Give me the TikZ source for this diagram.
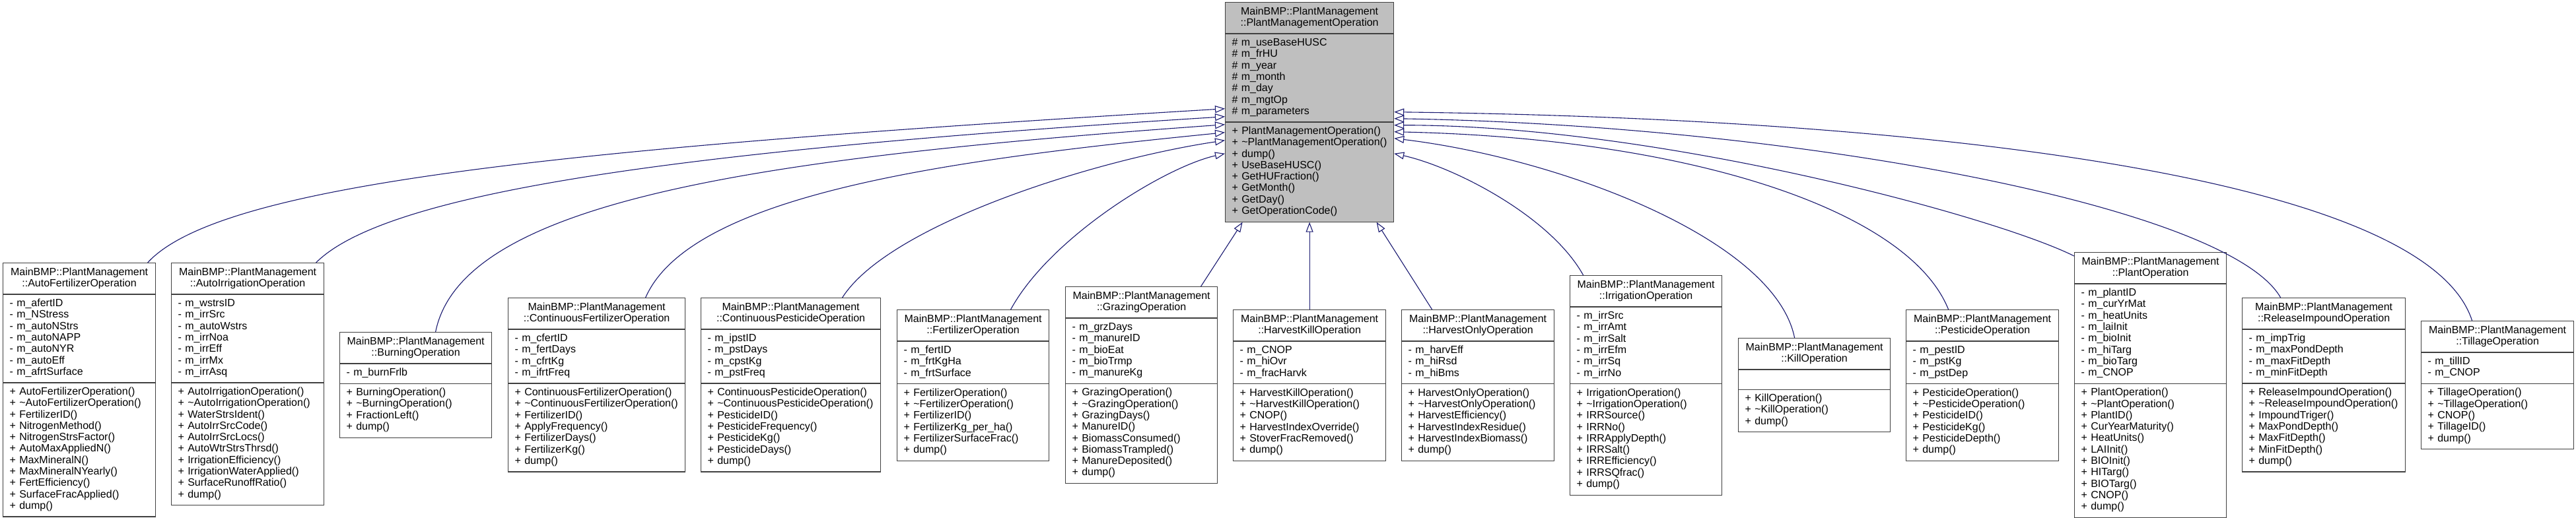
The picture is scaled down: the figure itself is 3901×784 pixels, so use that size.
\documentclass[tikz,border=0pt]{standalone}
\usepackage{fontspec}
\setmainfont{Liberation Sans}
\usetikzlibrary{shapes.multipart,arrows.meta,calc}
\setlength{\parindent}{0pt}

\definecolor{edgeblue}{HTML}{191970}
\definecolor{topgray}{HTML}{BFBFBF}
\definecolor{boxline}{HTML}{404040}
\newcommand{\umltitle}[2]{\centering\strut#1\\#2\strut\par}
\newcommand{\umlpart}[1]{\raggedright\strut#1\strut\par}

\tikzset{
  umlclass/.style={rectangle split, rectangle split parts=3, draw=boxline,
    line width=0.6pt, anchor=north west, inner xsep=5pt,
    inner ysep=2.9pt, text width=#1, font=\fontsize{8pt}{8.65pt}\selectfont},
  inherit/.style={draw=edgeblue, line width=0.55pt,
    -{Triangle[open, length=7.5pt, width=5.5pt]}},
}

\begin{document}
\begin{tikzpicture}[x=0.5pt, y=-0.5pt]
  \useasboundingbox (0,0) rectangle (3901,784);

  % base class
  \node[umlclass=117.5pt, fill=topgray] (cTop) at (1855,3)
    {\umltitle{MainBMP::PlantManagement}{::PlantManagementOperation}
     \nodepart{two}\umlpart{\# m\_useBaseHUSC\\\# m\_frHU\\\# m\_year\\\# m\_month\\\# m\_day\\\# m\_mgtOp\\\# m\_parameters}
     \nodepart{three}\umlpart{+ PlantManagementOperation()\\+ \textasciitilde PlantManagementOperation()\\+ dump()\\+ UseBaseHUSC()\\+ GetHUFraction()\\+ GetMonth()\\+ GetDay()\\+ GetOperationCode()}};

  % derived classes
  \node[umlclass=105.5pt] (cAutoFert) at (4,398)
    {\umltitle{MainBMP::PlantManagement}{::AutoFertilizerOperation}
     \nodepart{two}\umlpart{- m\_afertID\\- m\_NStress\\- m\_autoNStrs\\- m\_autoNAPP\\- m\_autoNYR\\- m\_autoEff\\- m\_afrtSurface}
     \nodepart{three}\umlpart{+ AutoFertilizerOperation()\\+ \textasciitilde AutoFertilizerOperation()\\+ FertilizerID()\\+ NitrogenMethod()\\+ NitrogenStrsFactor()\\+ AutoMaxAppliedN()\\+ MaxMineralN()\\+ MaxMineralNYearly()\\+ FertEfficiency()\\+ SurfaceFracApplied()\\+ dump()}};

  \node[umlclass=105.5pt] (cAutoIrr) at (259,398)
    {\umltitle{MainBMP::PlantManagement}{::AutoIrrigationOperation}
     \nodepart{two}\umlpart{- m\_wstrsID\\- m\_irrSrc\\- m\_autoWstrs\\- m\_irrNoa\\- m\_irrEff\\- m\_irrMx\\- m\_irrAsq}
     \nodepart{three}\umlpart{+ AutoIrrigationOperation()\\+ \textasciitilde AutoIrrigationOperation()\\+ WaterStrsIdent()\\+ AutoIrrSrcCode()\\+ AutoIrrSrcLocs()\\+ AutoWtrStrsThrsd()\\+ IrrigationEfficiency()\\+ IrrigationWaterApplied()\\+ SurfaceRunoffRatio()\\+ dump()}};

  \node[umlclass=105pt] (cBurning) at (514,503)
    {\umltitle{MainBMP::PlantManagement}{::BurningOperation}
     \nodepart{two}\umlpart{- m\_burnFrlb}
     \nodepart{three}\umlpart{+ BurningOperation()\\+ \textasciitilde BurningOperation()\\+ FractionLeft()\\+ dump()}};

  \node[umlclass=124pt] (cContFert) at (769,451)
    {\umltitle{MainBMP::PlantManagement}{::ContinuousFertilizerOperation}
     \nodepart{two}\umlpart{- m\_cfertID\\- m\_fertDays\\- m\_cfrtKg\\- m\_ifrtFreq}
     \nodepart{three}\umlpart{+ ContinuousFertilizerOperation()\\+ \textasciitilde ContinuousFertilizerOperation()\\+ FertilizerID()\\+ ApplyFrequency()\\+ FertilizerDays()\\+ FertilizerKg()\\+ dump()}};

  \node[umlclass=126pt] (cContPest) at (1061,451)
    {\umltitle{MainBMP::PlantManagement}{::ContinuousPesticideOperation}
     \nodepart{two}\umlpart{- m\_ipstID\\- m\_pstDays\\- m\_cpstKg\\- m\_pstFreq}
     \nodepart{three}\umlpart{+ ContinuousPesticideOperation()\\+ \textasciitilde ContinuousPesticideOperation()\\+ PesticideID()\\+ PesticideFrequency()\\+ PesticideKg()\\+ PesticideDays()\\+ dump()}};

  \node[umlclass=105pt] (cFert) at (1358,469)
    {\umltitle{MainBMP::PlantManagement}{::FertilizerOperation}
     \nodepart{two}\umlpart{- m\_fertID\\- m\_frtKgHa\\- m\_frtSurface}
     \nodepart{three}\umlpart{+ FertilizerOperation()\\+ \textasciitilde FertilizerOperation()\\+ FertilizerID()\\+ FertilizerKg\_per\_ha()\\+ FertilizerSurfaceFrac()\\+ dump()}};

  \node[umlclass=105pt] (cGrazing) at (1613,434)
    {\umltitle{MainBMP::PlantManagement}{::GrazingOperation}
     \nodepart{two}\umlpart{- m\_grzDays\\- m\_manureID\\- m\_bioEat\\- m\_bioTrmp\\- m\_manureKg}
     \nodepart{three}\umlpart{+ GrazingOperation()\\+ \textasciitilde GrazingOperation()\\+ GrazingDays()\\+ ManureID()\\+ BiomassConsumed()\\+ BiomassTrampled()\\+ ManureDeposited()\\+ dump()}};

  \node[umlclass=105.5pt] (cHarvKill) at (1867,469)
    {\umltitle{MainBMP::PlantManagement}{::HarvestKillOperation}
     \nodepart{two}\umlpart{- m\_CNOP\\- m\_hiOvr\\- m\_fracHarvk}
     \nodepart{three}\umlpart{+ HarvestKillOperation()\\+ \textasciitilde HarvestKillOperation()\\+ CNOP()\\+ HarvestIndexOverride()\\+ StoverFracRemoved()\\+ dump()}};

  \node[umlclass=105.5pt] (cHarvOnly) at (2122,469)
    {\umltitle{MainBMP::PlantManagement}{::HarvestOnlyOperation}
     \nodepart{two}\umlpart{- m\_harvEff\\- m\_hiRsd\\- m\_hiBms}
     \nodepart{three}\umlpart{+ HarvestOnlyOperation()\\+ \textasciitilde HarvestOnlyOperation()\\+ HarvestEfficiency()\\+ HarvestIndexResidue()\\+ HarvestIndexBiomass()\\+ dump()}};

  \node[umlclass=105pt] (cIrr) at (2377,417)
    {\umltitle{MainBMP::PlantManagement}{::IrrigationOperation}
     \nodepart{two}\umlpart{- m\_irrSrc\\- m\_irrAmt\\- m\_irrSalt\\- m\_irrEfm\\- m\_irrSq\\- m\_irrNo}
     \nodepart{three}\umlpart{+ IrrigationOperation()\\+ \textasciitilde IrrigationOperation()\\+ IRRSource()\\+ IRRNo()\\+ IRRApplyDepth()\\+ IRRSalt()\\+ IRREfficiency()\\+ IRRSQfrac()\\+ dump()}};

  \node[umlclass=105pt] (cKill) at (2632,512)
    {\umltitle{MainBMP::PlantManagement}{::KillOperation}
     \nodepart{two}\umlpart{}
     \nodepart{three}\umlpart{+ KillOperation()\\+ \textasciitilde KillOperation()\\+ dump()}};

  \node[umlclass=105.5pt] (cPest) at (2886,469)
    {\umltitle{MainBMP::PlantManagement}{::PesticideOperation}
     \nodepart{two}\umlpart{- m\_pestID\\- m\_pstKg\\- m\_pstDep}
     \nodepart{three}\umlpart{+ PesticideOperation()\\+ \textasciitilde PesticideOperation()\\+ PesticideID()\\+ PesticideKg()\\+ PesticideDepth()\\+ dump()}};

  \node[umlclass=105pt] (cPlant) at (3141,382)
    {\umltitle{MainBMP::PlantManagement}{::PlantOperation}
     \nodepart{two}\umlpart{- m\_plantID\\- m\_curYrMat\\- m\_heatUnits\\- m\_laiInit\\- m\_bioInit\\- m\_hiTarg\\- m\_bioTarg\\- m\_CNOP}
     \nodepart{three}\umlpart{+ PlantOperation()\\+ \textasciitilde PlantOperation()\\+ PlantID()\\+ CurYearMaturity()\\+ HeatUnits()\\+ LAIInit()\\+ BIOInit()\\+ HITarg()\\+ BIOTarg()\\+ CNOP()\\+ dump()}};

  \node[umlclass=113.5pt] (cRelease) at (3395,451)
    {\umltitle{MainBMP::PlantManagement}{::ReleaseImpoundOperation}
     \nodepart{two}\umlpart{- m\_impTrig\\- m\_maxPondDepth\\- m\_maxFitDepth\\- m\_minFitDepth}
     \nodepart{three}\umlpart{+ ReleaseImpoundOperation()\\+ \textasciitilde ReleaseImpoundOperation()\\+ ImpoundTriger()\\+ MaxPondDepth()\\+ MaxFitDepth()\\+ MinFitDepth()\\+ dump()}};

  \node[umlclass=105.5pt] (cTillage) at (3666,486)
    {\umltitle{MainBMP::PlantManagement}{::TillageOperation}
     \nodepart{two}\umlpart{- m\_tillID\\- m\_CNOP}
     \nodepart{three}\umlpart{+ TillageOperation()\\+ \textasciitilde TillageOperation()\\+ CNOP()\\+ TillageID()\\+ dump()}};

  % inheritance edges, left side
  \draw[inherit] ($(cAutoFert.north)+(103.5,0)$) .. controls +(110,-120) and +(-1000,60) .. ($(cTop.south west)+(0,-172)$);
  \draw[inherit] ($(cAutoIrr.north)+(103.5,0)$) .. controls +(110,-110) and +(-800,50) .. ($(cTop.south west)+(0,-160)$);
  \draw[inherit] ($(cBurning.north)+(30,0)$) .. controls +(40,-200) and +(-700,50) .. ($(cTop.south west)+(0,-148)$);
  \draw[inherit] ($(cContFert.north)+(74,0)$) .. controls +(70,-160) and +(-400,40) .. ($(cTop.south west)+(0,-136)$);
  \draw[inherit] ($(cContPest.north)+(78,0)$) .. controls +(70,-110) and +(-200,30) .. ($(cTop.south west)+(0,-124)$);
  \draw[inherit] ($(cFert.north)+(57,0)$) .. controls +(60,-110) and +(-90,20) .. ($(cTop.south west)+(0,-104)$);

  % inheritance edges, bottom
  \draw[inherit] ($(cGrazing.north)+(90,0)$) -- ($(cTop.south)+(-101.5,0)$);
  \draw[inherit] (cHarvKill.north) -- (cTop.south);
  \draw[inherit] ($(cHarvOnly.north)+(-69.5,0)$) -- ($(cTop.south)+(101.5,0)$);

  % inheritance edges, right side
  \draw[inherit] ($(cIrr.north)+(-95,0)$) .. controls +(-50,-90) and +(90,20) .. ($(cTop.south east)+(0,-104)$);
  \draw[inherit] ($(cKill.north)+(-30,0)$) .. controls +(-30,-150) and +(250,30) .. ($(cTop.south east)+(0,-127)$);
  \draw[inherit] ($(cPest.north)+(-51.5,0)$) .. controls +(-60,-150) and +(450,10) .. ($(cTop.south east)+(0,-137)$);
  \draw[inherit] ($(cPlant.north west)+(0,6)$) .. controls +(-120,-60) and +(400,0) .. ($(cTop.south east)+(0,-147)$);
  \draw[inherit] ($(cRelease.north)+(-65.5,0)$) .. controls +(-80,-140) and +(600,10) .. ($(cTop.south east)+(0,-157)$);
  \draw[inherit] ($(cTillage.north)+(-38.5,0)$) .. controls +(-70,-220) and +(800,10) .. ($(cTop.south east)+(0,-167)$);
\end{tikzpicture}
\end{document}
